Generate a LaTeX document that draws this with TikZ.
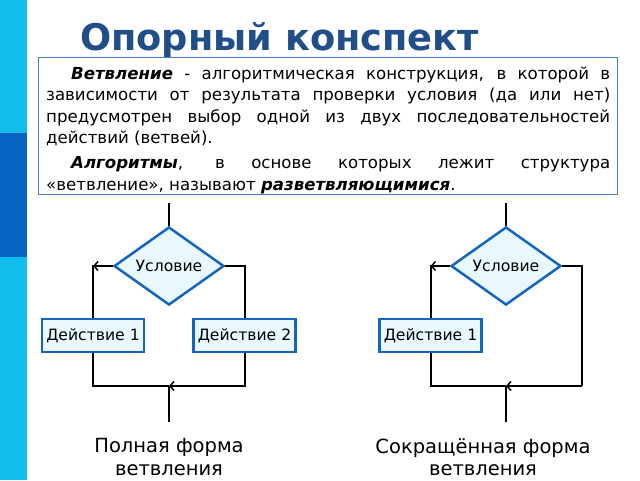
\documentclass[tikz,border=0pt]{standalone}
\usepackage{fontspec}
\setmainfont{DejaVu Sans}
\usetikzlibrary{shapes.geometric,arrows.meta,calc}
\definecolor{barlight}{HTML}{10BDEC}
\definecolor{bardark}{HTML}{0563C1}
\definecolor{titleblue}{HTML}{1F4E89}
\definecolor{frameblue}{HTML}{4A7CC4}
\definecolor{shapeblue}{HTML}{1565C0}
\definecolor{shapefill}{HTML}{E8F8FD}
\begin{document}
\begin{tikzpicture}[x=1pt,y=-1pt,
  flowline/.style={line width=2pt,black},
  tipped/.style={-{Straight Barb[length=4pt,width=9pt,line width=1.5pt]}},
  act/.style={draw=shapeblue,fill=shapefill,line width=2.5pt,minimum width=102pt,minimum height=33pt,inner sep=0pt,font=\fontsize{15.6}{18}\selectfont},
  cond/.style={diamond,draw=shapeblue,fill=shapefill,line width=2.5pt,minimum width=110pt,minimum height=50pt,inner sep=0pt,font=\fontsize{15.6}{18}\selectfont},
  caption/.style={align=center,inner sep=1pt,font=\fontsize{19.5}{22.5}\selectfont}]
\useasboundingbox (0,0) rectangle (640,480);
\fill[white] (0,0) rectangle (640,480);
\fill[barlight] (0,0) rectangle (27,480);
\fill[bardark] (0,133) rectangle (27,257);
\node[anchor=base west,inner sep=0pt,text=titleblue,font=\fontsize{36.7}{40}\selectfont\bfseries] (title) at (80,50) {Опорный конспект};
\node[draw=frameblue,line width=0.8pt,anchor=north west,minimum width=579.5pt,minimum height=137pt,inner sep=0pt] (def) at (37.5,57) {};
\node[anchor=base west,inner sep=0pt,font=\fontsize{16.6}{21.5}\selectfont] (deftext) at (46,79) {\begin{minipage}[t]{564pt}\setlength{\parindent}{25pt}\setlength{\parskip}{3.5pt}\emergencystretch=20pt\textbf{\textit{Ветвление}} - алгоритмическая конструкция, в которой в\linebreak зависимости от результата проверки условия (да или нет)\linebreak предусмотрен выбор одной из двух последовательностей\linebreak действий (ветвей).\par
\textbf{\textit{Алгоритмы}}, в основе которых лежит структура\linebreak «ветвление», называют \textbf{\textit{разветвляющимися}}.\end{minipage}};
% left diagram
\coordinate (Ltop) at (169,203);
\node[cond] (Lc) at (169,266) {Условие};
\node[act] (La1) at (93,335.5) {Действие 1};
\node[act] (La2) at (244.5,335.5) {Действие 2};
\coordinate (Lj) at (169,386);
\coordinate (Lbot) at (169,422);
\draw[flowline] (Ltop) -- (Lc.north);
\draw[flowline] (Lc.west) -| (La1.north);
\draw[flowline,tipped] (Lc.west) -- (Lc.west -| La1.north);
\draw[flowline] (Lc.east) -| (La2.north);
\draw[flowline] (La1.south) |- (Lj);
\draw[flowline,tipped] (La2.south) |- (Lj);
\draw[flowline] (Lj) -- (Lbot);
\node[caption] (Lcap) at (169,457) {Полная форма\\ветвления};
% right diagram
\coordinate (Rtop) at (506,203);
\node[cond] (Rc) at (506,266) {Условие};
\node[act] (Ra1) at (430.5,335.5) {Действие 1};
\coordinate (Rcorner) at (582,386);
\coordinate (Rj) at (506,386);
\coordinate (Rbot) at (506,422);
\draw[flowline] (Rtop) -- (Rc.north);
\draw[flowline] (Rc.west) -| (Ra1.north);
\draw[flowline,tipped] (Rc.west) -- (Rc.west -| Ra1.north);
\draw[flowline] (Rc.east) -| (Rcorner);
\draw[flowline] (Ra1.south) |- (Rj);
\draw[flowline,tipped] (Rcorner) -- (Rj);
\draw[flowline] (Rj) -- (Rbot);
\node[caption] (Rcap) at (483,457) {Сокращённая форма\\ветвления};
\end{tikzpicture}
\end{document}
